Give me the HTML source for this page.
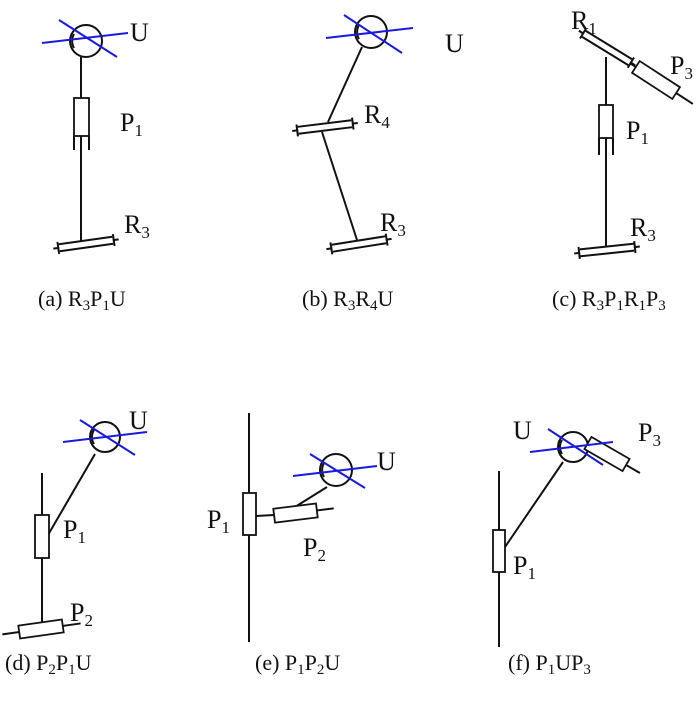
<!DOCTYPE html>
<html><head><meta charset="utf-8"><style>
html,body{margin:0;padding:0;background:#fff}
svg{display:block}
text{font-family:"Liberation Serif",serif;fill:#111}
.l{stroke:#111;stroke-width:2;fill:none}
.b{stroke:#1a1adc;stroke-width:2;fill:none}
.bx{stroke:#111;stroke-width:1.8;fill:#fff}
.lb{font-size:26px}
.lb tspan{font-size:17px}
</style></head><body>
<svg width="700" height="703" viewBox="0 0 700 703" xmlns="http://www.w3.org/2000/svg">
<defs>
<g id="rev">
<line class="l" x1="-27" y1="-3.5" x2="27" y2="-3.5"/>
<line class="l" x1="-27" y1="3.5" x2="27" y2="3.5"/>
<line class="l" x1="-33" y1="0" x2="-27" y2="0"/>
<line class="l" x1="27" y1="0" x2="33" y2="0"/>
<line class="l" x1="-28" y1="-6" x2="-28" y2="6" stroke-width="1.6"/>
<line class="l" x1="28" y1="-6" x2="28" y2="6" stroke-width="1.6"/>
</g>
</defs>

<!-- (a) -->
<circle class="l" cx="86" cy="41" r="16"/>
<path class="l" d="M74,34 A14,14 0 0 0 74,48" stroke-width="1.4"/>
<line class="b" x1="42" y1="43" x2="128" y2="33"/>
<line class="b" x1="59" y1="20" x2="117" y2="57"/>
<line class="l" x1="81" y1="57" x2="81" y2="98"/>
<rect class="bx" x="74" y="98" width="15" height="38"/>
<line class="l" x1="74" y1="136" x2="74" y2="150"/>
<line class="l" x1="89" y1="136" x2="89" y2="150"/>
<line class="l" x1="81" y1="136" x2="81" y2="242"/>
<use href="#rev" transform="translate(86,244) rotate(-8)"/>
<text class="lb" x="130" y="41">U</text>
<text class="lb" x="120" y="131">P<tspan dy="5">1</tspan></text>
<text class="lb" x="124" y="233">R<tspan dy="5">3</tspan></text>

<!-- (b) -->
<circle class="l" cx="371" cy="32" r="16"/>
<path class="l" d="M359,25 A14,14 0 0 0 359,39" stroke-width="1.4"/>
<line class="b" x1="326" y1="38" x2="413" y2="28"/>
<line class="b" x1="344" y1="15" x2="402" y2="53"/>
<line class="l" x1="362" y1="47" x2="328" y2="122"/>
<use href="#rev" transform="translate(325,127) rotate(-7)"/>
<line class="l" x1="322" y1="132" x2="357" y2="240"/>
<use href="#rev" transform="translate(359,244) rotate(-9)"/>
<text class="lb" x="445" y="52">U</text>
<text class="lb" x="364" y="123">R<tspan dy="5">4</tspan></text>
<text class="lb" x="380" y="231">R<tspan dy="5">3</tspan></text>

<!-- (c) -->
<use href="#rev" transform="translate(607,48) rotate(31.5)"/>
<line class="l" x1="606" y1="57" x2="606" y2="105"/>
<rect class="bx" x="599" y="105" width="14" height="33"/>
<line class="l" x1="599" y1="138" x2="599" y2="155"/>
<line class="l" x1="613" y1="138" x2="613" y2="155"/>
<line class="l" x1="606" y1="138" x2="606" y2="247"/>
<g transform="translate(656,80) rotate(33)">
<line class="l" x1="-30" y1="0" x2="44" y2="0"/>
<rect class="bx" x="-24" y="-7" width="48" height="14"/>
</g>
<use href="#rev" transform="translate(607,250) rotate(-6)"/>
<text class="lb" x="571" y="29">R<tspan dy="5">1</tspan></text>
<text class="lb" x="670" y="74">P<tspan dy="5">3</tspan></text>
<text class="lb" x="626" y="139">P<tspan dy="5">1</tspan></text>
<text class="lb" x="630" y="236">R<tspan dy="5">3</tspan></text>

<!-- (d) -->
<circle class="l" cx="105" cy="437" r="15"/>
<path class="l" d="M94,430 A13,13 0 0 0 94,444" stroke-width="1.4"/>
<line class="b" x1="63" y1="442" x2="147" y2="432"/>
<line class="b" x1="80" y1="420" x2="135" y2="455"/>
<line class="l" x1="95" y1="454" x2="48" y2="535"/>
<line class="l" x1="42" y1="473" x2="42" y2="630"/>
<rect class="bx" x="35" y="515" width="14" height="43"/>
<g transform="translate(41,629) rotate(-8)">
<line class="l" x1="-39" y1="0" x2="40" y2="0"/>
<rect class="bx" x="-22" y="-6.5" width="44" height="13"/>
</g>
<text class="lb" x="129" y="429">U</text>
<text class="lb" x="63" y="538">P<tspan dy="5">1</tspan></text>
<text class="lb" x="70" y="621">P<tspan dy="5">2</tspan></text>

<!-- (e) -->
<line class="l" x1="249" y1="413" x2="249" y2="642"/>
<rect class="bx" x="243" y="493" width="13" height="42"/>
<line class="l" x1="256" y1="516" x2="274" y2="515"/>
<line class="l" x1="295" y1="507" x2="327" y2="487"/>
<g transform="translate(296,513) rotate(-7)">
<line class="l" x1="-20" y1="0" x2="38" y2="0"/>
<rect class="bx" x="-22" y="-7" width="43" height="14"/>
</g>
<circle class="l" cx="336" cy="470" r="16"/>
<path class="l" d="M324,463 A14,14 0 0 0 324,477" stroke-width="1.4"/>
<line class="b" x1="293" y1="476" x2="377" y2="466"/>
<line class="b" x1="310" y1="454" x2="365" y2="488"/>
<text class="lb" x="377" y="470">U</text>
<text class="lb" x="207" y="528">P<tspan dy="5">1</tspan></text>
<text class="lb" x="303" y="556">P<tspan dy="5">2</tspan></text>

<!-- (f) -->
<line class="l" x1="499" y1="471" x2="499" y2="647"/>
<rect class="bx" x="493" y="530" width="12" height="42"/>
<line class="l" x1="505" y1="547" x2="563" y2="462"/>
<circle class="l" cx="573" cy="447" r="15"/>
<path class="l" d="M562,440 A13,13 0 0 0 562,454" stroke-width="1.4"/>
<g transform="translate(607,454) rotate(30)">
<line class="l" x1="-20" y1="0" x2="38" y2="0"/>
<rect class="bx" x="-22" y="-7" width="44" height="14"/>
</g>
<line class="b" x1="530" y1="452" x2="613" y2="442"/>
<line class="b" x1="548" y1="429" x2="603" y2="465"/>
<text class="lb" x="513" y="439">U</text>
<text class="lb" x="638" y="441">P<tspan dy="5">3</tspan></text>
<text class="lb" x="513" y="574">P<tspan dy="5">1</tspan></text>

<!-- captions -->
<g font-size="22">
<text x="38" y="306">(a) R<tspan font-size="15" dy="4">3</tspan><tspan dy="-4">P</tspan><tspan font-size="15" dy="4">1</tspan><tspan dy="-4">U</tspan></text>
<text x="302" y="306">(b) R<tspan font-size="15" dy="4">3</tspan><tspan dy="-4">R</tspan><tspan font-size="15" dy="4">4</tspan><tspan dy="-4">U</tspan></text>
<text x="552" y="306">(c) R<tspan font-size="15" dy="4">3</tspan><tspan dy="-4">P</tspan><tspan font-size="15" dy="4">1</tspan><tspan dy="-4">R</tspan><tspan font-size="15" dy="4">1</tspan><tspan dy="-4">P</tspan><tspan font-size="15" dy="4">3</tspan></text>
<text x="5" y="670">(d) P<tspan font-size="15" dy="4">2</tspan><tspan dy="-4">P</tspan><tspan font-size="15" dy="4">1</tspan><tspan dy="-4">U</tspan></text>
<text x="255" y="670">(e) P<tspan font-size="15" dy="4">1</tspan><tspan dy="-4">P</tspan><tspan font-size="15" dy="4">2</tspan><tspan dy="-4">U</tspan></text>
<text x="508" y="670">(f) P<tspan font-size="15" dy="4">1</tspan><tspan dy="-4">UP</tspan><tspan font-size="15" dy="4">3</tspan></text>
</g>
</svg>
</body></html>
